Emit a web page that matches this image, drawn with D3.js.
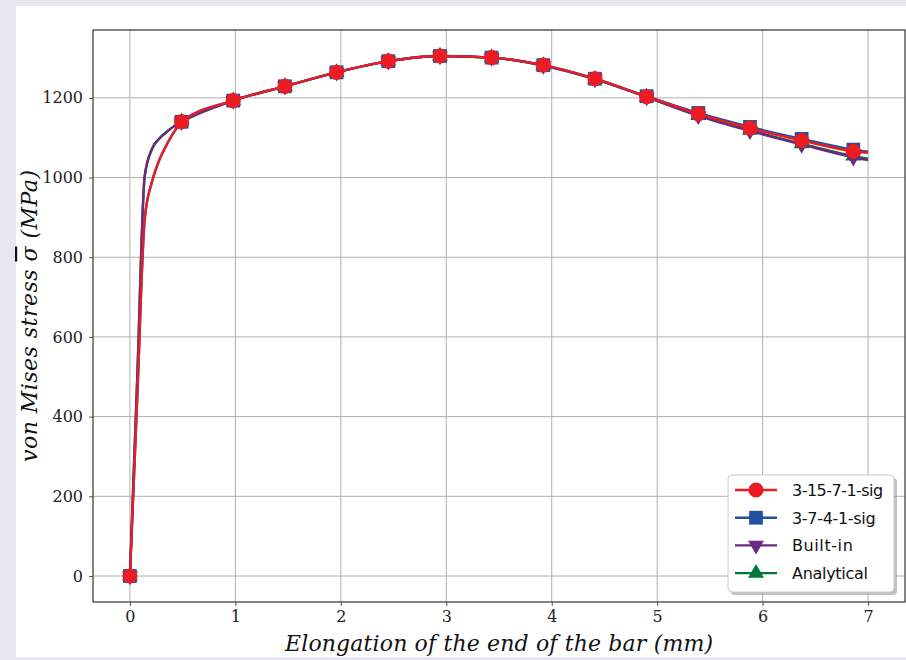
<!doctype html>
<html>
<head>
<style>
  body { margin: 0; background: #e7e7f1; }
  svg { display: block; }
  .tick text { font-family: "DejaVu Serif", "Liberation Serif", serif; }
</style>
<script src="https://d3js.org/d3.v7.min.js"></script>
</head>
<body>
<svg id="chart" width="906" height="660"></svg>
<script>

// elongation (mm) sampled for every series
var elong = [0, 0.07, 0.14, 0.21, 0.28, 0.35, 0.42, 0.49, 0.98, 1.47, 1.96, 2.45, 2.94, 3.43, 3.92, 4.41, 4.90, 5.39, 5.88, 6.37, 6.86, 7.00];
// x positions that carry a marker
var markedElong = [0, 0.49, 0.98, 1.47, 1.96, 2.45, 2.94, 3.43, 3.92, 4.41, 4.90, 5.39, 5.88, 6.37, 6.86];

var sig3157 = [0, 450, 895, 990, 1045, 1083, 1115, 1140, 1193, 1229, 1264, 1292, 1305, 1301, 1282, 1248, 1203, 1160, 1124, 1093, 1066, 1062];
var sig3741 = [0, 450, 895, 990, 1045, 1083, 1115, 1140, 1193, 1229, 1264, 1292, 1305, 1301, 1282, 1248, 1204, 1162, 1127, 1097, 1070, 1065];
var builtIn = [0, 500, 1003, 1072, 1098, 1115, 1129, 1140, 1193, 1229, 1264, 1292, 1305, 1301, 1281, 1247, 1202, 1155, 1117, 1083, 1051, 1044];
var analytical = [0, 500, 1003, 1072, 1098, 1115, 1129, 1140, 1193, 1229, 1264, 1292, 1305, 1301, 1281, 1247, 1202, 1156, 1119, 1085, 1054, 1047];

var seriesNames = ["3-15-7-1-sig", "3-7-4-1-sig", "Built-in", "Analytical"];
var seriesValues = [sig3157, sig3741, builtIn, analytical];
var seriesColors = ["#ec1c24", "#2150a0", "#6b2a80", "#00773a"];
var seriesMarkers = ["circle", "square", "down", "up"];

var xTicks = [0, 1, 2, 3, 4, 5, 6, 7];
var yTicks = [0, 200, 400, 600, 800, 1000, 1200];

var svg = d3.select("#chart");

// white figure panel
svg.append("rect")
   .attr("x", 16).attr("y", 6)
   .attr("width", 890).attr("height", 651)
   .attr("fill", "white");

var pLeft = 93, pRight = 905, pTop = 30, pBottom = 602;

// matplotlib style 5% margins
var xMin = d3.min(elong), xMax = d3.max(elong);
var allY = [].concat.apply([], seriesValues);
var yMin = d3.min(allY), yMax = d3.max(allY);
var xPad = (xMax - xMin) * 0.05, yPad = (yMax - yMin) * 0.05;

var x = d3.scaleLinear().domain([xMin - xPad, xMax + xPad]).range([pLeft, pRight]);
var y = d3.scaleLinear().domain([yMin - yPad, yMax + yPad]).range([pBottom, pTop]);

// grid
svg.append("g")
   .selectAll("line")
   .data(xTicks)
   .enter().append("line")
   .attr("x1", function(d) { return x(d); })
   .attr("x2", function(d) { return x(d); })
   .attr("y1", pTop).attr("y2", pBottom)
   .attr("stroke", "#b0b0b0").attr("stroke-width", 1);

svg.append("g")
   .selectAll("line")
   .data(yTicks)
   .enter().append("line")
   .attr("y1", function(d) { return y(d); })
   .attr("y2", function(d) { return y(d); })
   .attr("x1", pLeft).attr("x2", pRight)
   .attr("stroke", "#b0b0b0").attr("stroke-width", 1);

// axes
var xAxis = svg.append("g")
   .attr("transform", "translate(0," + pBottom + ")")
   .call(d3.axisBottom(x).tickValues(xTicks).tickSize(4).tickPadding(5).tickFormat(d3.format("d")));
var yAxis = svg.append("g")
   .attr("transform", "translate(" + pLeft + ",0)")
   .call(d3.axisLeft(y).tickValues(yTicks).tickSize(4).tickPadding(6).tickFormat(d3.format("d")));

[xAxis, yAxis].forEach(function(a) {
    a.select(".domain").remove();
    a.selectAll(".tick line").attr("stroke", "#555");
    a.selectAll(".tick text").attr("font-size", "16px").attr("fill", "#222");
});

// series, drawn so the first legend entry ends on top
var line = d3.line()
    .x(function(d) { return x(d[0]); })
    .y(function(d) { return y(d[1]); })
    .curve(d3.curveMonotoneX);

var symbolFor = {
    circle: d3.symbol().type(d3.symbolCircle).size(180),
    square: d3.symbol().type(d3.symbolSquare).size(190),
    up: d3.symbol().type(d3.symbolTriangle).size(110),
    down: d3.symbol().type(d3.symbolTriangle).size(110)
};

for (var s = seriesValues.length - 1; s >= 0; s--) {
    var pts = elong.map(function(e, i) { return [e, seriesValues[s][i]]; });
    var g = svg.append("g");
    g.append("path")
     .datum(pts)
     .attr("d", line)
     .attr("fill", "none")
     .attr("stroke", seriesColors[s])
     .attr("stroke-width", 2.4);
    g.selectAll("path.mk")
     .data(pts.filter(function(p) { return markedElong.indexOf(p[0]) >= 0; }))
     .enter().append("path")
     .attr("class", "mk")
     .attr("d", symbolFor[seriesMarkers[s]])
     .attr("transform", function(p) {
         var rot = seriesMarkers[s] == "down" ? " rotate(180)" : "";
         return "translate(" + x(p[0]) + "," + y(p[1]) + ")" + rot;
     })
     .attr("fill", seriesColors[s]);
}

// frame
svg.append("rect")
   .attr("x", pLeft).attr("y", pTop)
   .attr("width", pRight - pLeft).attr("height", pBottom - pTop)
   .attr("fill", "none")
   .attr("stroke", "#333").attr("stroke-width", 1.2);

// axis labels
svg.append("text")
   .attr("x", (pLeft + pRight) / 2)
   .attr("y", 651)
   .attr("text-anchor", "middle")
   .attr("font-family", "DejaVu Serif, serif")
   .attr("font-style", "italic")
   .attr("font-size", "22px")
   .attr("textLength", 428)
   .attr("fill", "#111")
   .text("Elongation of the end of the bar (mm)");

var yl = svg.append("text")
   .attr("transform", "translate(37," + 316 + ") rotate(-90)")
   .attr("text-anchor", "middle")
   .attr("font-family", "DejaVu Serif, serif")
   .attr("font-style", "italic")
   .attr("font-size", "22px")
   .attr("textLength", 292)
   .attr("fill", "#111");
yl.append("tspan").text("von Mises stress ");
yl.append("tspan").style("text-decoration", "overline").text("σ");
yl.append("tspan").text(" (MPa)");

// legend
var lg = svg.append("g").attr("transform", "translate(728,475)");
lg.append("rect")
  .attr("x", 3).attr("y", 3)
  .attr("width", 166).attr("height", 117)
  .attr("rx", 4)
  .attr("fill", "#999").attr("opacity", 0.6);
lg.append("rect")
  .attr("width", 166).attr("height", 117)
  .attr("rx", 4)
  .attr("fill", "white")
  .attr("stroke", "#ccc");

seriesNames.forEach(function(name, i) {
    var row = lg.append("g").attr("transform", "translate(0," + (15 + i * 27.7) + ")");
    row.append("line")
       .attr("x1", 7).attr("x2", 49)
       .attr("stroke", seriesColors[i]).attr("stroke-width", 2.4);
    row.append("path")
       .attr("d", symbolFor[seriesMarkers[i]])
       .attr("transform", "translate(28,0)" + (seriesMarkers[i] == "down" ? " rotate(180)" : ""))
       .attr("fill", seriesColors[i]);
    row.append("text")
       .attr("x", 64).attr("y", 6)
       .attr("font-family", "DejaVu Sans, sans-serif")
       .attr("font-size", "16px")
       .attr("textLength", name.length * 7.6)
       .attr("fill", "#111")
       .text(name);
});

</script>
</body>
</html>
